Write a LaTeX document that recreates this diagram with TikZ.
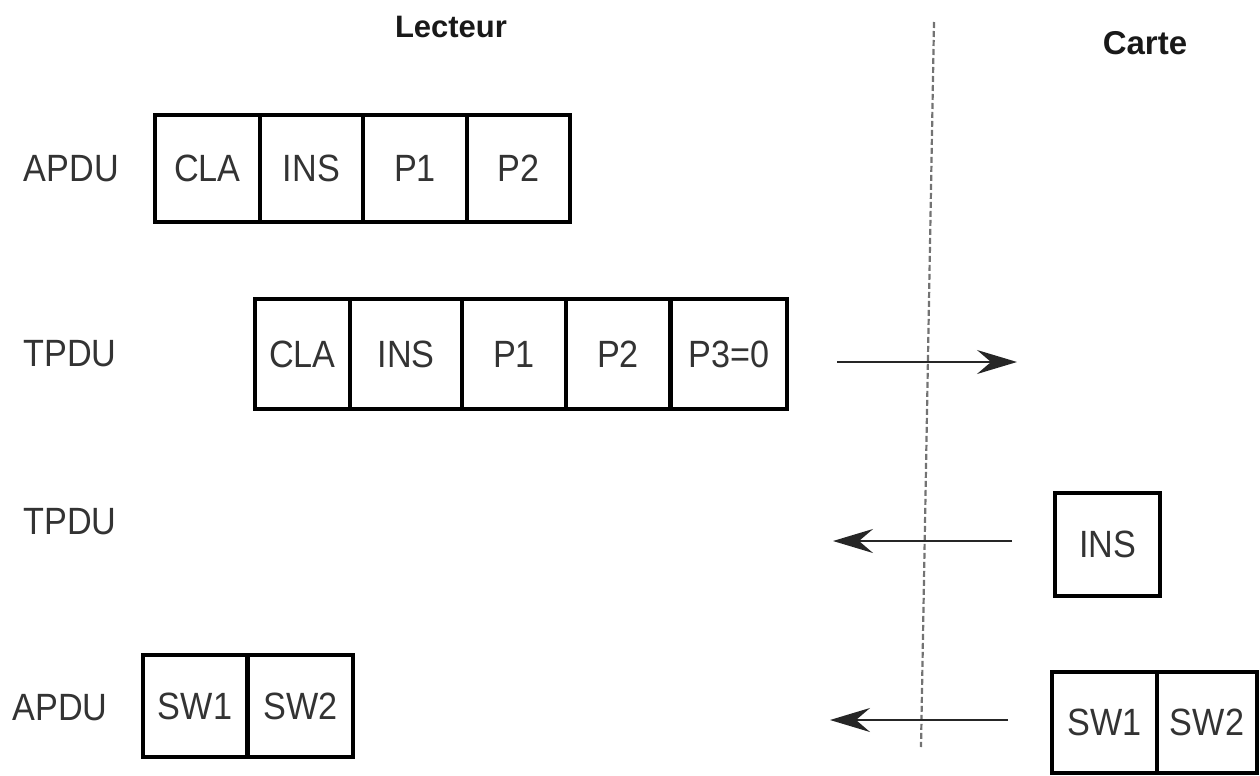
\documentclass[tikz,border=0pt]{standalone}
\usepackage{fontspec}
\setmainfont{Liberation Sans}
\newfontfamily\narrowsans[FakeStretch=0.9]{Liberation Sans}
\usetikzlibrary{arrows.meta}
\tikzset{
  cell/.style={draw=black, line width=1.6pt, rectangle, inner sep=0pt,
    minimum height=#1, text=black!80, font=\narrowsans\fontsize{19pt}{22pt}\selectfont},
  cell/.default=53pt,
  lab/.style={text=black!80, font=\narrowsans\fontsize{19pt}{22pt}\selectfont, inner sep=0pt},
  head/.style={text=black!90, font=\fontsize{#1}{19pt}\selectfont\bfseries, inner sep=0pt},
  msg/.style={draw=black!85, line width=1pt, -{Stealth[length=20pt, width=12pt, inset=7pt]}},
  sep/.style={draw=black!55, line width=1.1pt, dash pattern=on 3pt off 1.5pt}
}
\begin{document}
\begin{tikzpicture}[x=0.5pt, y=-0.5pt]
\useasboundingbox (0,0) rectangle (1260,776);
% headers
\node[head=15.5pt] (lect) at (451,27) {Lecteur};
\node[head=16.5pt] (carte) at (1145,43) {Carte};
% separator
\coordinate (sepT) at (934,22);
\coordinate (sepB) at (921,747);
\draw[sep] (sepT) -- (sepB);
% row labels
\node[lab] (l1) at (71.5,169) {APDU};
\node[lab] (l2) at (70,354) {TPDU};
\node[lab] (l3) at (70,522) {TPDU};
\node[lab] (l4) at (60,708) {APDU};
% row 1
\node[cell=53.5pt, minimum width=52.5pt] (r1a) at (207.5,168.5) {CLA};
\node[cell=53.5pt, minimum width=51.5pt] (r1b) at (311.5,168.5) {INS};
\node[cell=53.5pt, minimum width=52pt] (r1c) at (415,168.5) {P1};
\node[cell=53.5pt, minimum width=51.5pt] (r1d) at (518.5,168.5) {P2};
% row 2
\node[cell=55pt, minimum width=47.5pt] (r2a) at (302.5,354) {CLA};
\node[cell=55pt, minimum width=56pt] (r2b) at (406,354) {INS};
\node[cell=55pt, minimum width=52pt] (r2c) at (514,354) {P1};
\node[cell=55pt, minimum width=52pt] (r2d) at (618,354) {P2};
\node[cell=55pt, minimum width=58pt] (r2e) at (729,354) {P3=0};
% row 3
\node[cell=51.5pt, minimum width=52.5pt] (ins) at (1107.5,544.5) {INS};
% row 4 left
\node[cell=51pt, minimum width=52pt] (sw1l) at (195,706) {SW1};
\node[cell=51pt, minimum width=52.5pt] (sw2l) at (300.5,706) {SW2};
% row 4 right
\node[cell=50.5pt, minimum width=52.5pt] (sw1r) at (1104.5,722.5) {SW1};
\node[cell=50.5pt, minimum width=50pt] (sw2r) at (1207,722.5) {SW2};
% arrows
\coordinate (a2s) at (837,362);
\coordinate (a2e) at (1017,362);
\draw[msg] (a2s) -- (a2e);
\coordinate (a3s) at (1012,541);
\coordinate (a3e) at (833,541);
\draw[msg] (a3s) -- (a3e);
\coordinate (a4s) at (1008,720);
\coordinate (a4e) at (830,720);
\draw[msg] (a4s) -- (a4e);
\end{tikzpicture}
\end{document}
